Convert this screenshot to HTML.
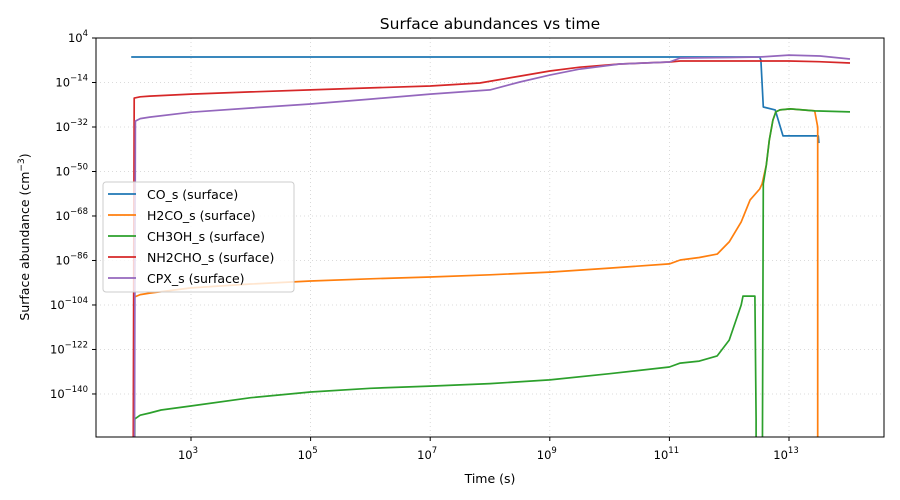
<!DOCTYPE html>
<html><head><meta charset="utf-8"><style>
html,body{margin:0;padding:0;background:#fff;overflow:hidden;width:900px;height:500px}
svg{display:block}
svg text{font-family:"DejaVu Sans","Liberation Sans",sans-serif;fill:#000}
</style></head><body>
<svg id="chart" width="900" height="500" xmlns="http://www.w3.org/2000/svg">
<rect width="900" height="500" fill="#fff"/>
<defs><clipPath id="clip"><rect x="96" y="38" width="788" height="399"/></clipPath></defs>
<g id="grid"></g>
<g id="series" clip-path="url(#clip)"></g>
<rect x="96" y="38" width="788" height="399" fill="none" stroke="#000" stroke-width="1"/>
<g id="axes"></g>
<text x="490" y="29" font-size="15.5" text-anchor="middle">Surface abundances vs time</text>
<text x="490" y="483" font-size="12.5" text-anchor="middle">Time (s)</text>
<text transform="translate(29,237) rotate(-90)" font-size="12.5" text-anchor="middle">Surface abundance (cm<tspan dy="-5" font-size="9">−3</tspan><tspan dy="5">)</tspan></text>
<g id="legend"></g>
</svg>
<script>
// data in log10 space: time exponent and abundance exponent
const names=["CO_s (surface)","H2CO_s (surface)","CH3OH_s (surface)","NH2CHO_s (surface)","CPX_s (surface)"];
const colors=["#1f77b4","#ff7f0e","#2ca02c","#d62728","#9467bd"];
const coT=[2.0,12.51,12.53,12.57,12.77,12.9,13.49,13.5];
const coV=[-3.7,-3.7,-5,-23.9,-25.1,-35.6,-35.6,-38.5];
const h2coT=[2.03,2.05,2.15,2.31,3,4,5,6,7,8,9,10,11,11.18,11.5,11.8,12.0,12.2,12.35,12.51,12.55,12.62,12.67,12.73,12.78,12.85,13.02,13.43,13.48,13.48];
const h2coV=[-200,-100.8,-99.8,-99.2,-97.1,-95.5,-94.3,-93.4,-92.7,-91.8,-90.7,-89.1,-87.4,-85.8,-84.8,-83.4,-78.5,-70.4,-61.5,-57.1,-55,-47.4,-37.3,-29.2,-25.9,-25.1,-24.7,-25.5,-32,-200];
const ch3ohT=[2.05,2.06,2.15,2.31,2.5,2.98,4,5,6,7,8,9,10,11,11.18,11.5,11.8,12.0,12.2,12.23,12.43,12.45,12.45,12.55,12.57,12.62,12.67,12.73,12.78,12.85,13.02,13.43,14.02];
const ch3ohV=[-200,-150.1,-148.6,-147.7,-146.5,-144.9,-141.5,-139.2,-137.7,-136.8,-135.8,-134.3,-131.8,-129.1,-127.5,-126.7,-124.6,-118.2,-104,-100.4,-100.4,-150,-200,-200,-55,-47.4,-37.3,-29.2,-25.9,-25.1,-24.7,-25.5,-25.9];
const nh2choT=[2.03,2.05,2.15,2.31,3,4,5,6,7,7.83,8.5,9,9.5,10.17,11,11.18,12,13,13.5,14.02];
const nh2choV=[-200,-20.3,-19.8,-19.5,-18.7,-17.8,-17.0,-16.2,-15.4,-14.2,-11.4,-9.35,-7.8,-6.5,-5.7,-5.3,-5.3,-5.3,-5.6,-6.1];
const cpxT=[2.05,2.07,2.15,2.31,3,4,5,6,7,8.0,8.5,9,9.5,10.17,11,11.18,12,12.51,13,13.52,14.02];
const cpxV=[-200,-29.6,-28.6,-28.0,-26,-24.3,-22.7,-20.7,-18.7,-17.0,-13.8,-11,-8.6,-6.5,-5.7,-4.1,-3.9,-3.7,-2.9,-3.3,-4.5];
const xTicks=[3,5,7,9,11,13];
const yTicks=[4,-14,-32,-50,-68,-86,-104,-122,-140];
const NS="http://www.w3.org/2000/svg";
const X=l=>191+(l-3)*59.8;
const Y=l=>38+(4-l)*2.472;
function mk(t,a,p){const e=document.createElementNS(NS,t);for(const k in a)e.setAttribute(k,a[k]);p.appendChild(e);return e;}
const grid=document.getElementById('grid'),axes=document.getElementById('axes');
xTicks.forEach(t=>{const x=X(t);
 const g=mk('line',{x1:x,x2:x,y1:38,y2:437,stroke:'#d0d0d0','stroke-width':0.8,'stroke-dasharray':'1,3'},grid);
 
 
 const tk=mk('line',{x1:x,x2:x,y1:437,y2:441,stroke:'#000'},axes);
 
 
 const tx=mk('text',{x:x-3,y:459,'font-size':11.5,'text-anchor':'middle'},axes);
 
 
 tx.innerHTML='10<tspan dy="-6" font-size="8.5">'+t+'</tspan>';
});
yTicks.forEach(t=>{const y=Y(t);
 const g=mk('line',{x1:96,x2:884,y1:y,y2:y,stroke:'#d0d0d0','stroke-width':0.8,'stroke-dasharray':'1,3'},grid);
 
 
 const tk=mk('line',{x1:92,x2:96,y1:y,y2:y,stroke:'#000'},axes);
 
 
 const tx=mk('text',{x:88,y:y+4,'font-size':11.5,'text-anchor':'end'},axes);
 
 
 tx.innerHTML='10<tspan dy="-6" font-size="8.5">'+String(t).replace('-','−')+'</tspan>';
});
const data=[[coT,coV],[h2coT,h2coV],[ch3ohT,ch3ohV],[nh2choT,nh2choV],[cpxT,cpxV]];
const sg=document.getElementById('series');
data.forEach((d,i)=>{
 const pts=d[0].map((t,j)=>X(t).toFixed(1)+','+Y(d[1][j]).toFixed(1)).join(' ');
 const p=mk('polyline',{points:pts,fill:'none',stroke:colors[i],'stroke-width':1.7,'stroke-linejoin':'round'},sg);
 
 
});
const lg=document.getElementById('legend');
const box=mk('rect',{x:103,y:182,width:191,height:110,rx:3,fill:'#fff','fill-opacity':0.8,stroke:'#ccc'},lg);


names.forEach((n,i)=>{const y=194+i*21;
 const l=mk('line',{x1:108,x2:136,y1:y,y2:y,stroke:colors[i],'stroke-width':1.7},lg);
 
 
 const t=mk('text',{x:147,y:y+5,'font-size':12.5},lg);
 
 
 t.textContent=n;
});
</script>
</body></html>
